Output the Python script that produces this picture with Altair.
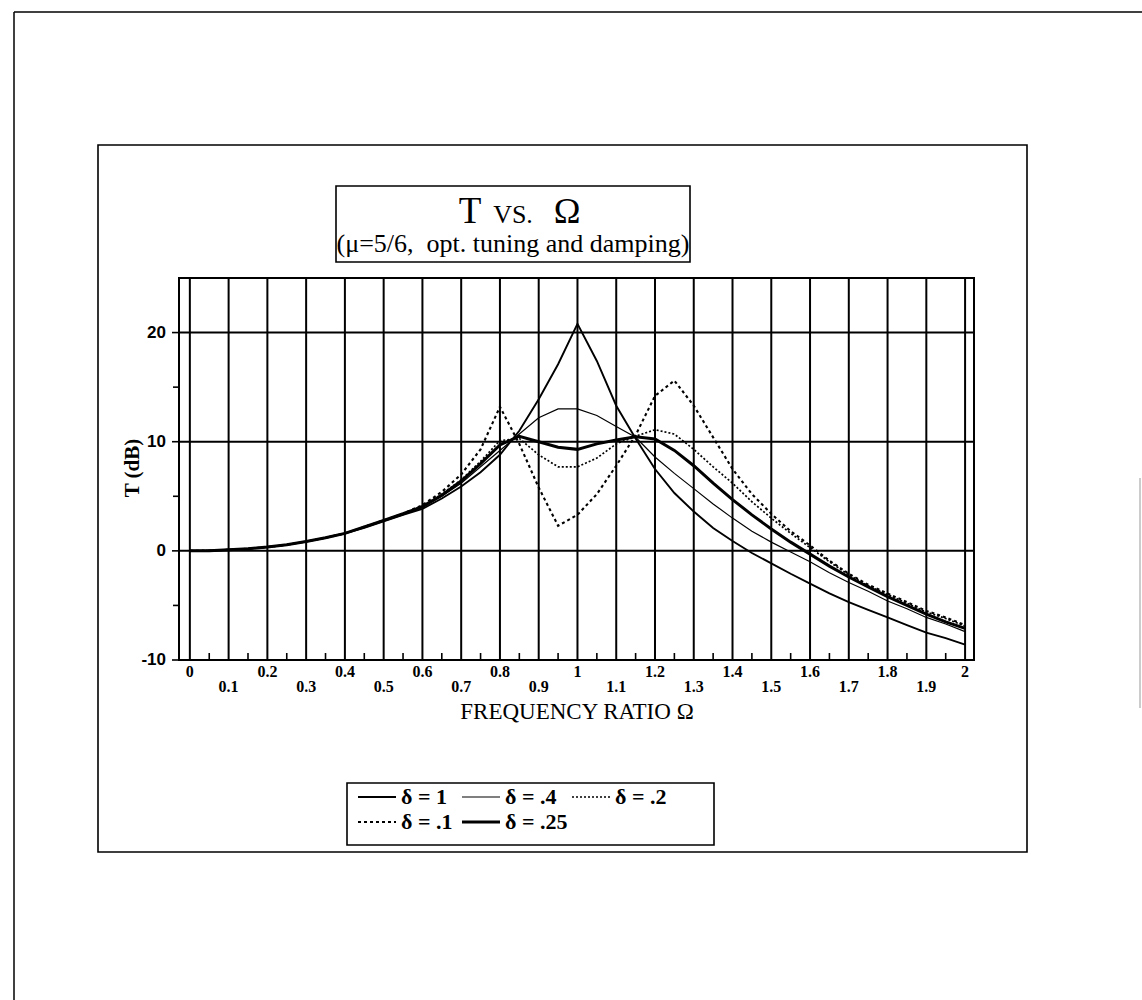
import altair as alt
import pandas as pd

# Frequency ratio samples (Omega) shared by all curves
omega = [0.0, 0.05, 0.1, 0.15, 0.2, 0.25, 0.3, 0.35, 0.4, 0.45, 0.5, 0.55,
         0.6, 0.65, 0.7, 0.75, 0.8, 0.85, 0.9, 0.95, 1.0, 1.05, 1.1, 1.15,
         1.2, 1.25, 1.3, 1.35, 1.4, 1.45, 1.5, 1.55, 1.6, 1.65, 1.7, 1.75,
         1.8, 1.85, 1.9, 1.95, 2.0]

# Transmissibility T (dB) for each damping value
t_d100 = [0, 0.02, 0.1, 0.2, 0.35, 0.55, 0.85, 1.2, 1.6, 2.1, 2.7, 3.3,
          3.85, 4.8, 5.9, 7.2, 8.8, 11.0, 13.9, 17.1, 20.8, 17.4, 13.3, 10.3,
          7.5, 5.3, 3.6, 2.1, 0.9, -0.2, -1.15, -2.1, -3.0, -3.9, -4.7, -5.4,
          -6.1, -6.8, -7.5, -8.0, -8.6]
t_d040 = [0, 0.02, 0.1, 0.2, 0.35, 0.55, 0.85, 1.2, 1.6, 2.2, 2.8, 3.4,
          4.0, 5.0, 6.2, 7.7, 9.2, 10.7, 12.2, 13.0, 13.0, 12.4, 11.4, 10.4,
          8.6, 7.1, 5.7, 4.3, 3.0, 1.8, 0.8, -0.1, -1.0, -2.0, -2.9, -3.7,
          -4.6, -5.3, -6.1, -6.7, -7.4]
t_d020 = [0, 0.02, 0.1, 0.2, 0.35, 0.55, 0.85, 1.2, 1.6, 2.2, 2.8, 3.4,
          4.1, 5.2, 6.5, 8.2, 10.1, 10.3, 8.8, 7.7, 7.7, 8.5, 9.8, 10.5,
          11.1, 10.7, 9.3, 7.7, 6.2, 4.5, 3.0, 1.6, 0.3, -1.0, -2.2, -3.2,
          -4.0, -4.8, -5.6, -6.2, -6.9]
t_d010 = [0, 0.02, 0.1, 0.2, 0.35, 0.55, 0.85, 1.2, 1.6, 2.2, 2.8, 3.4,
          4.2, 5.4, 7.0, 9.3, 13.2, 9.8, 5.8, 2.3, 3.3, 5.2, 7.8, 10.6,
          14.2, 15.6, 13.3, 10.4, 7.5, 5.2, 3.4, 1.8, 0.5, -0.9, -2.1, -3.1,
          -3.9, -4.7, -5.5, -6.1, -6.8]
t_d025 = [0, 0.02, 0.1, 0.2, 0.35, 0.55, 0.85, 1.2, 1.6, 2.2, 2.8, 3.4,
          4.05, 5.1, 6.4, 8.0, 9.7, 10.5, 10.0, 9.5, 9.3, 9.8, 10.15, 10.45,
          10.25, 9.2, 7.8, 6.2, 4.7, 3.3, 2.0, 0.8, -0.3, -1.4, -2.4, -3.3,
          -4.2, -5.0, -5.8, -6.5, -7.1]

series_names = ["δ = 1", "δ = .4", "δ = .2", "δ = .1", "δ = .25"]
series_values = [t_d100, t_d040, t_d020, t_d010, t_d025]
line_styles = {
    "δ = 1": {"strokeWidth": 1.9},
    "δ = .4": {"strokeWidth": 1.2},
    "δ = .2": {"strokeWidth": 1.7, "strokeDash": [2, 2]},
    "δ = .1": {"strokeWidth": 2.1, "strokeDash": [3, 3]},
    "δ = .25": {"strokeWidth": 3.0},
}

# Grid and tick positions
grid_x = [0.0, 0.1, 0.2, 0.3, 0.4, 0.5, 0.6, 0.7, 0.8, 0.9, 1.0, 1.1, 1.2,
          1.3, 1.4, 1.5, 1.6, 1.7, 1.8, 1.9, 2.0]
minor_x = [0.05, 0.15, 0.25, 0.35, 0.45, 0.55, 0.65, 0.75, 0.85, 0.95, 1.05,
           1.15, 1.25, 1.35, 1.45, 1.55, 1.65, 1.75, 1.85, 1.95]
even_labels = [0.0, 0.2, 0.4, 0.6, 0.8, 1.0, 1.2, 1.4, 1.6, 1.8, 2.0]
even_text = ["0", "0.2", "0.4", "0.6", "0.8", "1", "1.2", "1.4", "1.6", "1.8", "2"]
odd_labels = [0.1, 0.3, 0.5, 0.7, 0.9, 1.1, 1.3, 1.5, 1.7, 1.9]
odd_text = ["0.1", "0.3", "0.5", "0.7", "0.9", "1.1", "1.3", "1.5", "1.7", "1.9"]
grid_y = [0, 10, 20]
major_y = [-10, 0, 10, 20]
minor_y = [-5, 5, 15]

W, H = 795, 382
xscale = alt.Scale(domain=[-0.028, 2.023], nice=False, zero=False)
yscale = alt.Scale(domain=[-10, 25], nice=False, zero=False)
SERIF = "Liberation Serif"
SANS = "Liberation Sans"
NBSP = "\u00a0"


def xenc(field):
    return alt.X(field, type="quantitative", scale=xscale, axis=None)


def yenc(field):
    return alt.Y(field, type="quantitative", scale=yscale, axis=None)


one = pd.DataFrame({"k": [0]})
layers = []

# grid lines
layers.append(alt.Chart(pd.DataFrame({"g": grid_x})).mark_rule(color="black", strokeWidth=2.0)
              .encode(x=xenc("g")))
layers.append(alt.Chart(pd.DataFrame({"g": grid_y})).mark_rule(color="black", strokeWidth=2.0)
              .encode(y=yenc("g")))
# minor x ticks (inward from the bottom edge)
layers.append(alt.Chart(pd.DataFrame({"g": minor_x})).mark_rule(color="black", strokeWidth=1.6)
              .encode(x=xenc("g"), y=alt.value(H), y2=alt.value(H - 7)))
# y ticks (outward)
layers.append(alt.Chart(pd.DataFrame({"g": major_y})).mark_rule(color="black", strokeWidth=1.6)
              .encode(y=yenc("g"), x=alt.value(-7), x2=alt.value(0)))
layers.append(alt.Chart(pd.DataFrame({"g": minor_y})).mark_rule(color="black", strokeWidth=1.6)
              .encode(y=yenc("g"), x=alt.value(-6), x2=alt.value(0)))

# tick labels
layers.append(alt.Chart(pd.DataFrame({"v": major_y, "t": [str(v) for v in major_y]}))
              .mark_text(font=SANS, fontSize=17, fontWeight="bold", align="right", baseline="middle")
              .encode(y=yenc("v"), x=alt.value(-13), text="t:N"))
layers.append(alt.Chart(pd.DataFrame({"v": even_labels, "t": even_text}))
              .mark_text(font=SERIF, fontSize=16, fontWeight="bold", align="center", baseline="middle")
              .encode(x=xenc("v"), y=alt.value(H + 12), text="t:N"))
layers.append(alt.Chart(pd.DataFrame({"v": odd_labels, "t": odd_text}))
              .mark_text(font=SERIF, fontSize=16, fontWeight="bold", align="center", baseline="middle")
              .encode(x=xenc("v"), y=alt.value(H + 27), text="t:N"))

# curves
for name, vals in zip(series_names, series_values):
    df = pd.DataFrame({"omega": omega, "T": vals})
    layers.append(alt.Chart(df).mark_line(color="black", **line_styles[name])
                  .encode(x=xenc("omega"), y=yenc("T")))

# axis titles
layers.append(alt.Chart(one).mark_text(font=SERIF, fontSize=23, align="center", baseline="middle")
              .encode(x=alt.value(398), y=alt.value(H + 52), text=alt.value("FREQUENCY RATIO Ω")))
layers.append(alt.Chart(one).mark_text(font=SERIF, fontSize=21, fontWeight="bold", angle=270,
                                       align="center", baseline="middle")
              .encode(x=alt.value(-46), y=alt.value(190), text=alt.value("T (dB)")))

# title box and title text
layers.append(alt.Chart(one).mark_rect(fillOpacity=0, stroke="black", strokeWidth=1.6)
              .encode(x=alt.value(157), x2=alt.value(511), y=alt.value(-92), y2=alt.value(-16)))
layers.append(alt.Chart(one).mark_text(font=SERIF, fontSize=37, align="center", baseline="alphabetic")
              .encode(x=alt.value(291), y=alt.value(-55), text=alt.value("T")))
layers.append(alt.Chart(one).mark_text(font=SERIF, fontSize=26, align="center", baseline="alphabetic")
              .encode(x=alt.value(334), y=alt.value(-55), text=alt.value("VS.")))
layers.append(alt.Chart(one).mark_text(font=SERIF, fontSize=36, align="center", baseline="alphabetic")
              .encode(x=alt.value(388), y=alt.value(-55), text=alt.value("Ω")))
layers.append(alt.Chart(one).mark_text(font=SERIF, fontSize=26, align="center", baseline="alphabetic")
              .encode(x=alt.value(334), y=alt.value(-26),
                      text=alt.value("(μ=5/6," + NBSP + NBSP + "opt. tuning and damping)")))

# legend box with samples
layers.append(alt.Chart(one).mark_rect(fillOpacity=0, stroke="black", strokeWidth=1.6)
              .encode(x=alt.value(168), x2=alt.value(535), y=alt.value(505), y2=alt.value(567)))
legend_pos = {
    "δ = 1": (179, 519),
    "δ = .4": (283, 519),
    "δ = .2": (393, 519),
    "δ = .1": (179, 544),
    "δ = .25": (283, 544),
}
for name in series_names:
    lx, ly = legend_pos[name]
    layers.append(alt.Chart(one).mark_rule(color="black", **line_styles[name])
                  .encode(x=alt.value(lx), x2=alt.value(lx + 38), y=alt.value(ly)))
    layers.append(alt.Chart(one).mark_text(font=SERIF, fontSize=22, fontWeight="bold",
                                           align="left", baseline="middle")
                  .encode(x=alt.value(lx + 43), y=alt.value(ly), text=alt.value(name)))

# outer frame and page border
layers.append(alt.Chart(one).mark_rect(fillOpacity=0, stroke="black", strokeWidth=1.6)
              .encode(x=alt.value(-81), x2=alt.value(848), y=alt.value(-133), y2=alt.value(574)))
layers.append(alt.Chart(one).mark_rule(color="black", strokeWidth=1.5)
              .encode(x=alt.value(-165), y=alt.value(-266), y2=alt.value(722)))
layers.append(alt.Chart(one).mark_rule(color="black", strokeWidth=1.5)
              .encode(x=alt.value(-165), x2=alt.value(963), y=alt.value(-266)))
layers.append(alt.Chart(one).mark_rule(color="#999999", strokeWidth=1)
              .encode(x=alt.value(961), y=alt.value(200), y2=alt.value(430)))

chart = (
    alt.layer(*layers)
    .properties(
        width=W,
        height=H,
        autosize=alt.AutoSizeParams(type="none"),
        padding={"left": 179, "top": 278, "right": 168, "bottom": 340},
        background="white",
    )
    .configure_view(stroke="black", strokeWidth=2.0)
)

chart.save("out.html", embed_options={"renderer": "svg", "actions": False})
